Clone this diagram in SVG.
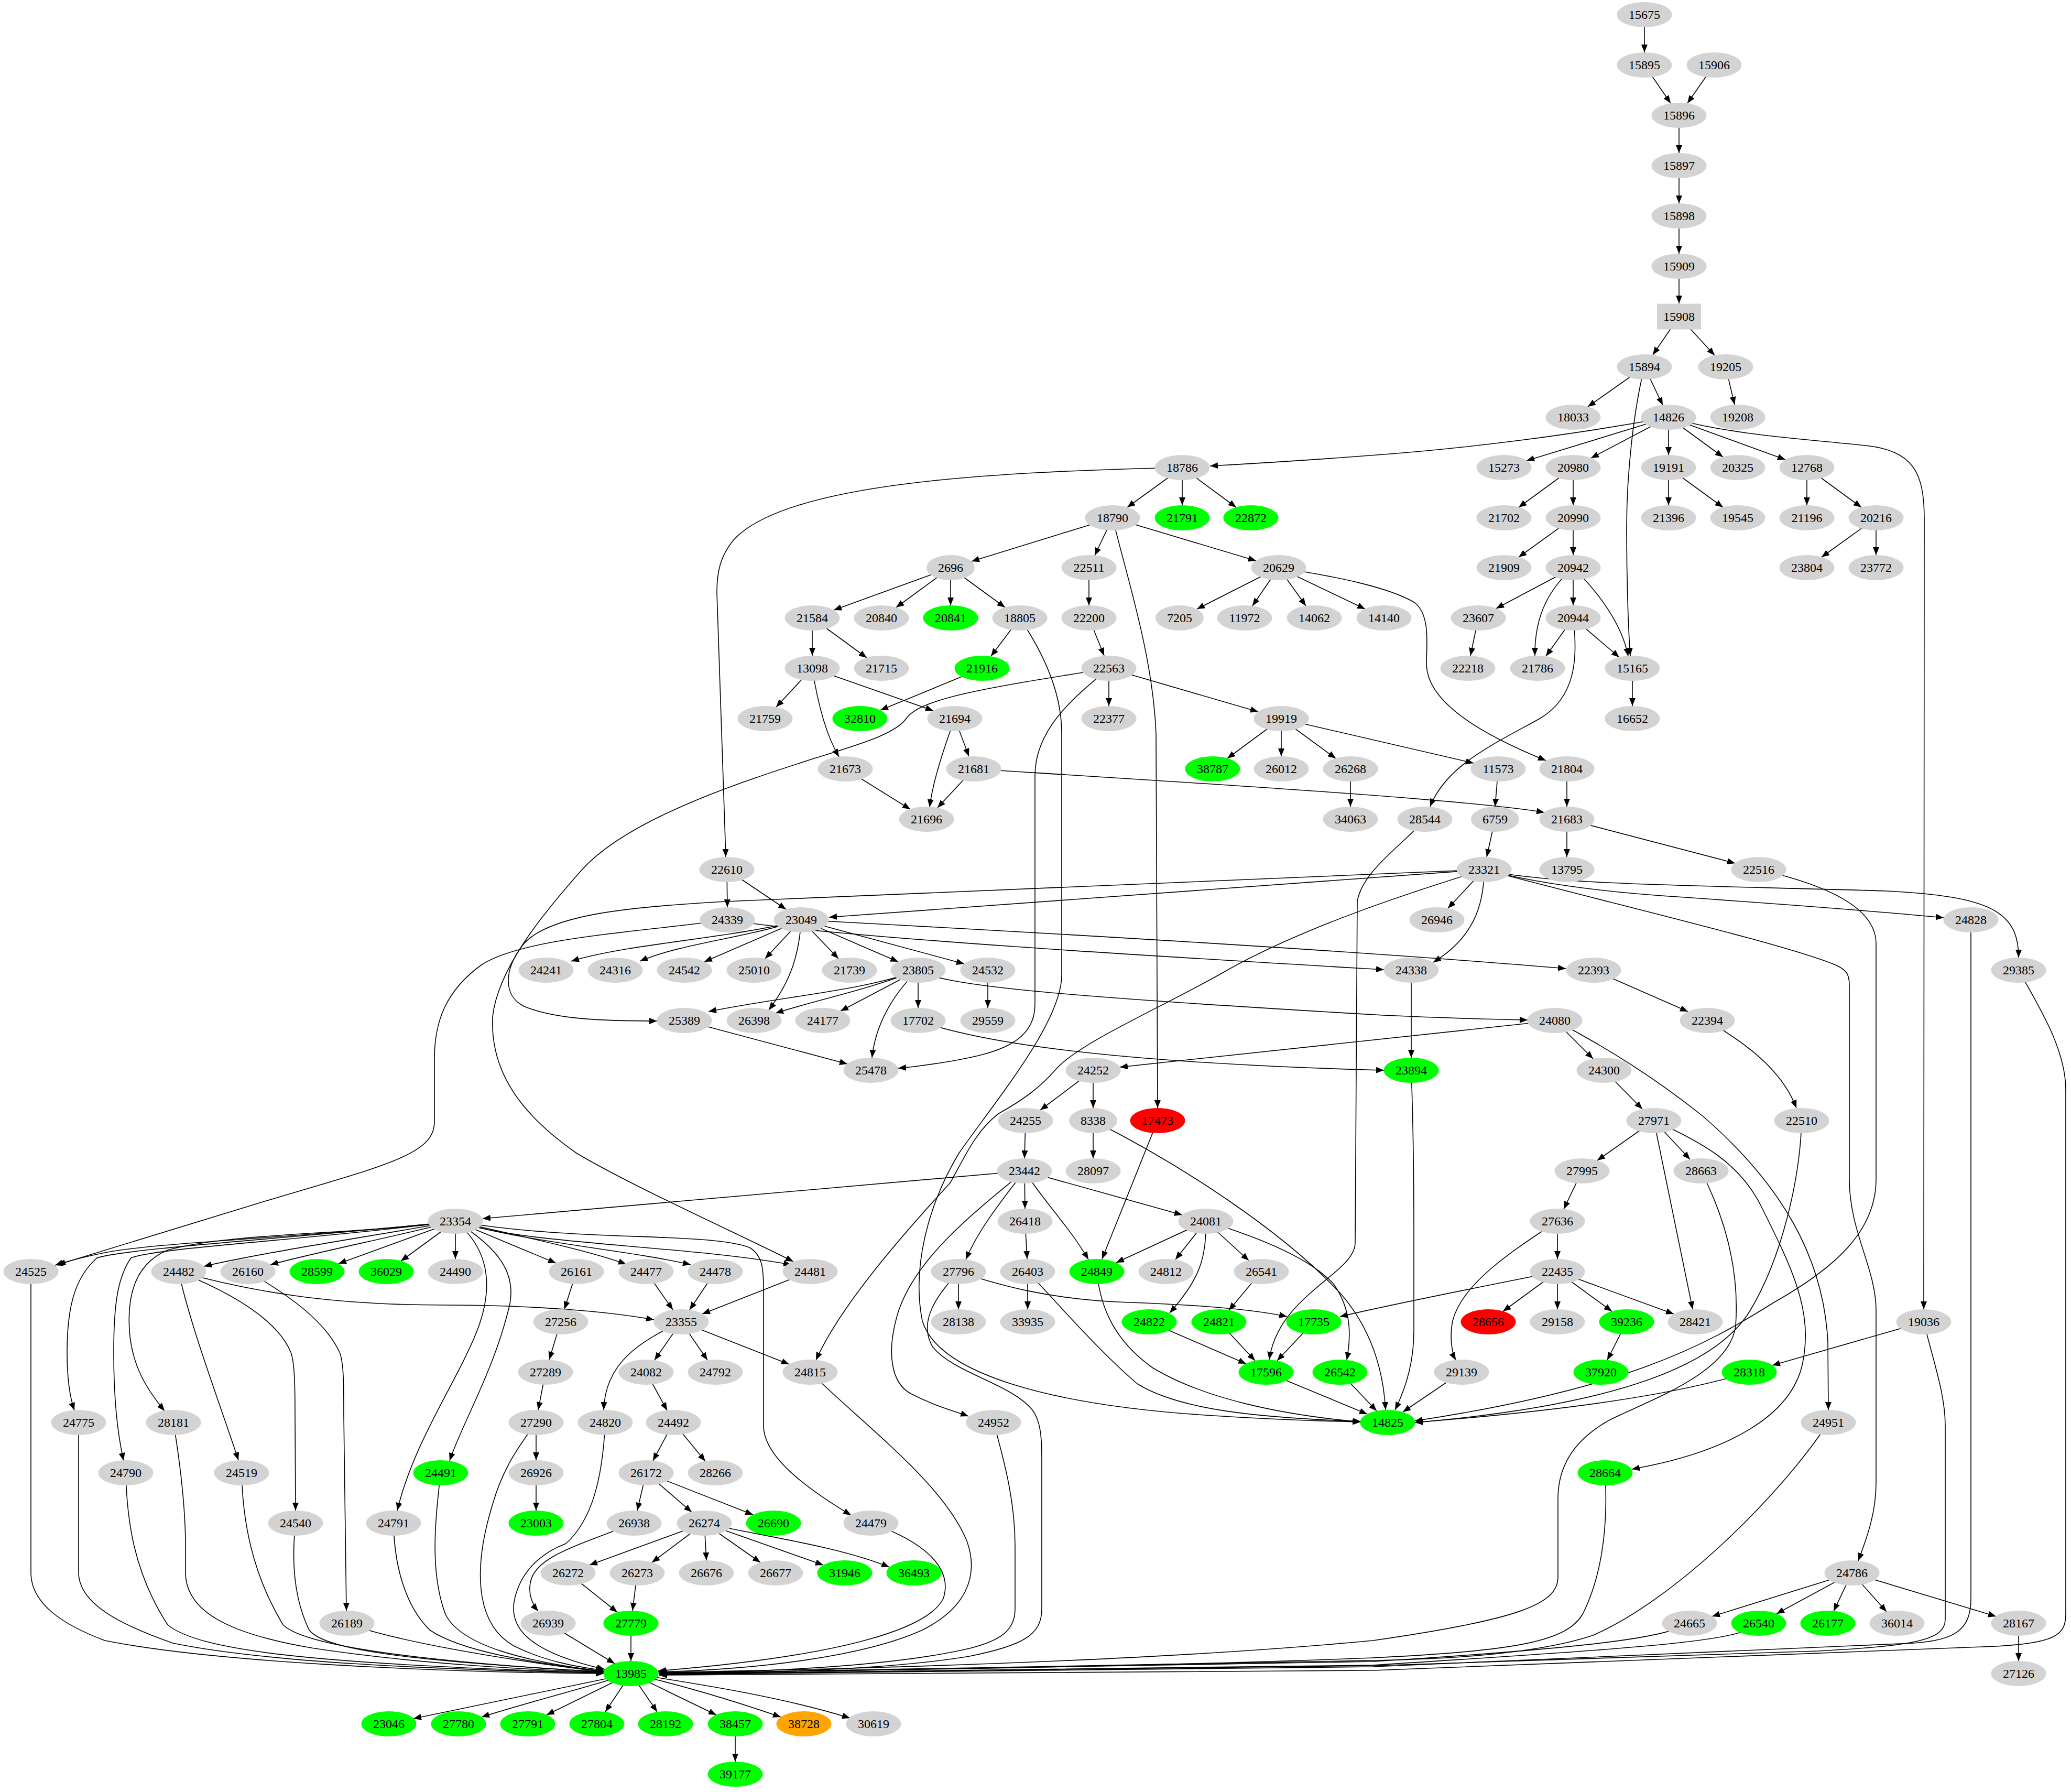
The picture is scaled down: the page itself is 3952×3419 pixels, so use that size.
<svg xmlns="http://www.w3.org/2000/svg" width="3952" height="3419" viewBox="0 0 3952 3419">
<defs>
<style>
.gr ellipse,.gr rect{fill:#d3d3d3}
.gn ellipse{fill:#00ff00}
.rd ellipse{fill:#ff0000}
.or ellipse{fill:#ffa500}
text{font-family:"Liberation Serif","Times New Roman",serif;font-size:24px;text-anchor:middle;fill:#000}
#edges path{fill:none;stroke:#000;stroke-width:1.6;marker-end:url(#a)}
</style>
<marker id="a" viewBox="0 0 15 12" refX="15" refY="6" markerWidth="15" markerHeight="12" markerUnits="userSpaceOnUse" orient="auto"><path d="M0,0L15,6L0,12z" fill="#000"/></marker>
</defs>
<rect width="3952" height="3419" fill="#fff"/>
<g id="edges">
<path d="M3138 28 L3138 100"/>
<path d="M3138 124 L3188 197"/>
<path d="M3271 124 L3220 197"/>
<path d="M3204 220 L3204 292"/>
<path d="M3204 316 L3204 388"/>
<path d="M3204 412 L3204 484"/>
<path d="M3204 508 L3204 579"/>
<path d="M3204 604 L3154 677"/>
<path d="M3204 604 L3272 678"/>
<path d="M3138 700 L3030 776"/>
<path d="M3138 700 L3173 773"/>
<path d="M3138 700 C3118 780 3104 900 3104 1008 C3104 1100 3107 1200 3111 1251"/>
<path d="M3293 700 L3310 772"/>
<path d="M3184 796 C3000 830 2800 855 2640 867 C2500 878 2400 884 2309 889"/>
<path d="M3184 796 L2913 879"/>
<path d="M3184 796 L3036 874"/>
<path d="M3184 796 L3184 868"/>
<path d="M3184 796 L3288 872"/>
<path d="M3184 796 L3407 877"/>
<path d="M3184 796 C3300 830 3450 838 3560 850 C3650 860 3672 900 3672 990 L3671 2498"/>
<path d="M3002 892 L2898 968"/>
<path d="M3002 892 L3002 964"/>
<path d="M3002 988 L2898 1063"/>
<path d="M3002 988 L3002 1059"/>
<path d="M3184 892 L3184 964"/>
<path d="M3184 892 L3288 968"/>
<path d="M3448 892 L3448 964"/>
<path d="M3448 892 L3552 968"/>
<path d="M3580 988 L3476 1063"/>
<path d="M3580 988 L3580 1059"/>
<path d="M3002 1083 L2855 1161"/>
<path d="M3002 1083 C2960 1120 2928 1170 2929 1251"/>
<path d="M3002 1083 L3002 1155"/>
<path d="M3002 1083 C3050 1130 3095 1190 3107 1252"/>
<path d="M3002 1179 L2950 1252"/>
<path d="M3002 1179 L3090 1254"/>
<path d="M3002 1179 C3012 1260 3005 1330 2940 1370 C2850 1420 2760 1460 2729 1539"/>
<path d="M2821 1179 L2806 1251"/>
<path d="M3115 1275 L3115 1347"/>
<path d="M2256 892 L2151 968"/>
<path d="M2256 892 L2256 964"/>
<path d="M2256 892 L2359 968"/>
<path d="M2256 892 C1900 900 1500 920 1400 1030 C1375 1060 1368 1090 1368 1130 L1385 1635"/>
<path d="M2123 988 L1854 1071"/>
<path d="M2123 988 L2089 1060"/>
<path d="M2123 988 L2397 1070"/>
<path d="M2123 988 C2150 1100 2200 1250 2206 1400 L2209 2114"/>
<path d="M1814 1083 L1591 1164"/>
<path d="M1814 1083 L1710 1159"/>
<path d="M1814 1083 L1814 1155"/>
<path d="M1814 1083 L1918 1159"/>
<path d="M2078 1083 L2078 1155"/>
<path d="M2078 1179 L2107 1251"/>
<path d="M2440 1083 L2284 1162"/>
<path d="M2440 1083 L2390 1156"/>
<path d="M2440 1083 L2492 1156"/>
<path d="M2440 1083 L2605 1162"/>
<path d="M2440 1083 C2550 1100 2650 1120 2700 1150 C2730 1175 2722 1230 2722 1266 C2722 1330 2800 1390 2950 1451"/>
<path d="M1550 1179 L1550 1251"/>
<path d="M1550 1179 L1654 1255"/>
<path d="M1946 1179 L1891 1252"/>
<path d="M1946 1179 C2000 1260 2026 1330 2026 1400 L2026 1860 C2026 1950 1900 2100 1830 2200 C1770 2300 1740 2420 1760 2520 C1790 2620 2000 2680 2300 2700 C2450 2710 2550 2712 2596 2713"/>
<path d="M1550 1275 L1481 1349"/>
<path d="M1550 1275 C1560 1340 1575 1400 1601 1444"/>
<path d="M1550 1275 L1781 1356"/>
<path d="M1874 1275 L1680 1355"/>
<path d="M2116 1275 L2116 1347"/>
<path d="M2116 1275 L2401 1358"/>
<path d="M2116 1275 C1900 1310 1760 1330 1730 1370 C1710 1400 1640 1420 1560 1445 C1420 1490 1200 1560 1110 1660 C1030 1750 950 1850 940 1940 C935 2050 1000 2130 1100 2200 C1200 2260 1400 2350 1514 2407"/>
<path d="M2116 1275 C2050 1330 1975 1390 1975 1480 L1975 1917 C1975 1990 1900 2010 1813 2025 C1770 2032 1740 2036 1714 2038"/>
<path d="M1822 1371 C1800 1430 1780 1490 1774 1540"/>
<path d="M1822 1371 L1849 1443"/>
<path d="M1613 1467 L1737 1544"/>
<path d="M1858 1467 L1789 1541"/>
<path d="M1858 1467 C2300 1495 2800 1525 2947 1550"/>
<path d="M2445 1371 L2342 1447"/>
<path d="M2445 1371 L2445 1443"/>
<path d="M2445 1371 L2549 1447"/>
<path d="M2445 1371 L2812 1456"/>
<path d="M2577 1467 L2577 1539"/>
<path d="M2859 1467 L2853 1539"/>
<path d="M2990 1467 L2990 1539"/>
<path d="M2853 1563 L2837 1635"/>
<path d="M2990 1563 L2990 1635"/>
<path d="M2990 1563 L3311 1647"/>
<path d="M2719 1563 C2680 1610 2600 1660 2590 1720 L2586 2371 C2586 2430 2440 2470 2422 2594"/>
<path d="M1387 1659 L1388 1731"/>
<path d="M1387 1659 L1500 1735"/>
<path d="M2832 1659 L1582 1750"/>
<path d="M2832 1659 L1385 1720 C1200 1730 1050 1745 1000 1800 C960 1850 960 1900 1000 1920 C1060 1945 1150 1948 1254 1948"/>
<path d="M2832 1659 L2763 1733"/>
<path d="M2832 1659 C2832 1730 2810 1790 2735 1836"/>
<path d="M2832 1659 C2700 1700 2480 1770 2326 1860 C2200 1930 2060 1990 2015 2040 C1985 2075 1950 2100 1905 2125 C1860 2160 1840 2210 1813 2257 C1700 2380 1600 2500 1557 2595"/>
<path d="M2832 1659 C2950 1690 3100 1705 3215 1712 C3400 1725 3600 1740 3709 1751"/>
<path d="M2832 1659 C2950 1690 3300 1690 3600 1700 C3800 1710 3852 1740 3852 1827"/>
<path d="M2832 1659 C3100 1730 3400 1800 3500 1840 C3525 1850 3529 1860 3529 1880 L3529 2250 C3529 2350 3580 2420 3580 2500 L3580 2830 C3580 2890 3560 2940 3546 2978"/>
<path d="M3356 1659 C3450 1680 3580 1720 3580 1800 L3580 2250 C3580 2350 3500 2420 3385 2485 C3250 2570 3100 2650 2700 2711"/>
<path d="M3438 2138 C3435 2250 3400 2400 3340 2500 C3280 2600 3100 2680 2700 2714"/>
<path d="M3246 2234 C3290 2320 3320 2420 3312 2530 C3300 2620 3150 2670 3070 2710 C3000 2750 2973 2800 2973 2860 L2973 3009 C2973 3060 2900 3090 2620 3130 C2200 3170 1600 3185 1258 3191"/>
<path d="M3063 2810 C3068 2900 3060 3000 3020 3080 C2990 3130 2900 3150 2620 3163 C2200 3180 1600 3188 1258 3192"/>
<path d="M3489 2714 C3400 2850 3200 3050 3040 3120 C2950 3150 2800 3165 2620 3168 L1258 3193"/>
<path d="M3224 3097 C3180 3120 3100 3140 2620 3170 L1258 3193"/>
<path d="M3356 3097 C3320 3130 3200 3140 2620 3177 L1258 3194"/>
<path d="M3671 2522 C3690 2600 3712 2660 3712 2720 L3712 3090 C3712 3130 3650 3140 3470 3150 L2620 3178 L1258 3194"/>
<path d="M3761 1755 L3761 3050 C3761 3110 3730 3130 3650 3135 L2620 3180 L1258 3195"/>
<path d="M3852 1851 C3890 1920 3942 2000 3942 2080 L3942 3080 C3942 3120 3920 3135 3809 3141 L2620 3187 L1258 3196"/>
<path d="M1662 2906 C1760 2940 1820 2990 1800 3050 C1770 3110 1600 3160 1256 3188"/>
<path d="M1546 2618 C1650 2720 1800 2830 1845 2940 C1870 3010 1840 3070 1760 3110 C1650 3160 1450 3185 1256 3190"/>
<path d="M1896 2714 C1920 2800 1937 2870 1937 2950 L1937 3070 C1937 3110 1910 3130 1850 3145 C1700 3180 1450 3190 1257 3192"/>
<path d="M1829 2426 C1790 2470 1750 2520 1780 2570 C1820 2620 1930 2640 1970 2690 C1985 2710 1988 2740 1988 2780 L1988 3070 C1988 3120 1950 3140 1850 3160 C1700 3185 1450 3193 1257 3193"/>
<path d="M59 2426 L59 3000 C59 3060 120 3100 200 3130 C400 3170 800 3190 1152 3193"/>
<path d="M150 2714 L150 3000 C150 3060 230 3100 330 3135 C500 3170 800 3185 1152 3192"/>
<path d="M240 2810 C242 2900 255 3000 320 3100 C380 3150 600 3175 1152 3192"/>
<path d="M331 2714 C345 2800 354 2880 354 2950 L354 3000 C354 3080 450 3120 600 3145 C800 3175 1000 3185 1152 3191"/>
<path d="M461 2810 C463 2900 480 3000 540 3100 C580 3140 800 3170 1152 3190"/>
<path d="M564 2906 C558 2960 556 3040 590 3110 C620 3150 800 3170 1152 3190"/>
<path d="M662 3097 C750 3130 950 3165 1152 3190"/>
<path d="M751 2906 C752 2980 770 3060 820 3110 C880 3150 1000 3170 1152 3189"/>
<path d="M841 2810 C830 2900 820 3000 850 3080 C880 3140 1000 3170 1152 3189"/>
<path d="M1023 2714 C990 2760 960 2800 940 2870 C900 3000 910 3100 980 3140 C1040 3170 1100 3180 1152 3187"/>
<path d="M1155 2714 C1150 2820 1130 2900 1080 2945 C1040 2960 1000 2990 985 3040 C965 3100 1000 3150 1154 3185"/>
<path d="M1046 3097 L1173 3174"/>
<path d="M1204 3097 L1204 3169"/>
<path d="M1204 3193 C1050 3225 900 3255 789 3279"/>
<path d="M1204 3193 C1100 3225 1000 3250 919 3276"/>
<path d="M1204 3193 L1043 3272"/>
<path d="M1204 3193 L1155 3266"/>
<path d="M1204 3193 L1254 3266"/>
<path d="M1204 3193 L1367 3272"/>
<path d="M1204 3193 C1300 3215 1400 3245 1490 3276"/>
<path d="M1204 3193 C1350 3215 1500 3240 1622 3278"/>
<path d="M1403 3289 L1403 3361"/>
<path d="M1084 3001 L1178 3076"/>
<path d="M1216 3001 L1207 3073"/>
<path d="M1344 2906 L1125 2986"/>
<path d="M1344 2906 L1244 2981"/>
<path d="M1344 2906 L1348 2977"/>
<path d="M1344 2906 L1451 2981"/>
<path d="M1344 2906 L1571 2986"/>
<path d="M1344 2906 C1450 2930 1600 2950 1697 2990"/>
<path d="M1210 2906 C1100 2950 1020 2970 1012 3020 C1008 3040 1015 3060 1027 3074"/>
<path d="M1233 2810 L1216 2882"/>
<path d="M1233 2810 L1320 2885"/>
<path d="M1233 2810 L1437 2890"/>
<path d="M1285 2714 L1246 2787"/>
<path d="M1285 2714 L1346 2788"/>
<path d="M1233 2618 L1273 2691"/>
<path d="M1041 2618 L1027 2690"/>
<path d="M1023 2714 L1023 2786"/>
<path d="M1023 2810 L1023 2882"/>
<path d="M1070 2522 L1048 2594"/>
<path d="M1100 2426 L1077 2498"/>
<path d="M1300 2522 L1249 2595"/>
<path d="M1300 2522 L1350 2595"/>
<path d="M1300 2522 L1506 2603"/>
<path d="M1300 2522 C1220 2560 1155 2600 1152 2690"/>
<path d="M341 2426 C500 2470 650 2490 850 2490 C1000 2490 1150 2500 1248 2518"/>
<path d="M1233 2426 L1284 2499"/>
<path d="M1365 2426 L1316 2499"/>
<path d="M1546 2426 L1340 2507"/>
<path d="M341 2426 C360 2520 420 2680 455 2786"/>
<path d="M341 2426 C450 2470 530 2520 555 2580 C562 2600 563 2640 563 2700 L564 2882"/>
<path d="M473 2426 C550 2470 620 2520 648 2580 C656 2600 656 2640 656 2700 L661 3073"/>
<path d="M869 2330 C600 2360 300 2370 200 2390 C160 2398 130 2406 105 2414"/>
<path d="M1388 1755 C1200 1780 1000 1790 920 1840 C850 1890 829 1950 829 2020 L829 2140 C829 2200 750 2220 505 2292 C350 2340 200 2385 110 2413"/>
<path d="M869 2330 C700 2360 500 2390 389 2416"/>
<path d="M869 2330 C750 2360 600 2390 516 2413"/>
<path d="M869 2330 L646 2411"/>
<path d="M869 2330 L765 2406"/>
<path d="M869 2330 L869 2402"/>
<path d="M869 2330 L1061 2410"/>
<path d="M869 2330 C1000 2360 1120 2385 1195 2412"/>
<path d="M869 2330 C1000 2370 1200 2385 1318 2413"/>
<path d="M869 2330 C1000 2375 1300 2375 1510 2413"/>
<path d="M869 2330 C1100 2370 1350 2350 1430 2380 C1455 2395 1457 2420 1457 2460 L1457 2720 C1457 2780 1540 2840 1624 2891"/>
<path d="M869 2330 C930 2380 945 2450 910 2540 C870 2640 790 2750 758 2882"/>
<path d="M869 2330 C950 2380 990 2430 970 2500 C940 2620 880 2720 858 2787"/>
<path d="M869 2330 C600 2360 250 2380 185 2400 C140 2440 128 2500 128 2580 C128 2630 133 2665 142 2691"/>
<path d="M869 2330 C600 2365 300 2380 250 2400 C222 2440 217 2500 217 2580 C217 2680 225 2740 236 2787"/>
<path d="M869 2330 C700 2355 450 2350 320 2385 C260 2410 240 2470 248 2550 C255 2610 280 2650 314 2692"/>
<path d="M1529 1755 C1400 1790 1200 1800 1090 1834"/>
<path d="M1529 1755 C1420 1790 1300 1800 1221 1834"/>
<path d="M1529 1755 L1344 1835"/>
<path d="M1529 1755 L1460 1829"/>
<path d="M1529 1755 L1600 1829"/>
<path d="M1529 1755 L1714 1835"/>
<path d="M1529 1755 L1840 1839"/>
<path d="M1529 1755 C1525 1820 1510 1870 1467 1927"/>
<path d="M1529 1755 C2000 1780 2600 1815 2988 1848"/>
<path d="M1388 1755 C1600 1790 2300 1830 2641 1850"/>
<path d="M1752 1851 C1650 1890 1500 1900 1352 1930"/>
<path d="M1752 1851 C1650 1890 1550 1910 1480 1933"/>
<path d="M1752 1851 L1604 1929"/>
<path d="M1752 1851 L1752 1923"/>
<path d="M1752 1851 C1700 1900 1670 1960 1664 2018"/>
<path d="M1752 1851 C1800 1880 2000 1900 2640 1937 C2750 1942 2850 1945 2915 1946"/>
<path d="M1885 1851 L1885 1923"/>
<path d="M1306 1947 L1617 2030"/>
<path d="M1752 1947 C1900 2000 2200 2030 2641 2042"/>
<path d="M2967 1947 L2137 2036"/>
<path d="M2967 1947 L3040 2020"/>
<path d="M2967 1947 C3050 1990 3150 2050 3250 2130 C3400 2260 3480 2400 3488 2560 L3489 2690"/>
<path d="M3041 1851 L3221 1930"/>
<path d="M3258 1947 C3330 1990 3400 2040 3428 2114"/>
<path d="M2693 1851 L2693 2018"/>
<path d="M2693 2042 C2697 2150 2698 2250 2698 2350 L2698 2540 C2698 2600 2682 2650 2662 2690"/>
<path d="M2086 2138 C2250 2220 2450 2350 2560 2470 C2620 2540 2640 2620 2644 2690"/>
<path d="M2086 2138 L2086 2210"/>
<path d="M2086 2042 L1985 2118"/>
<path d="M2086 2042 L2086 2114"/>
<path d="M1957 2138 L1955 2210"/>
<path d="M3061 2042 L3134 2116"/>
<path d="M3156 2138 L3048 2214"/>
<path d="M3156 2138 L3225 2212"/>
<path d="M3156 2138 L3230 2498"/>
<path d="M3156 2138 C3250 2180 3320 2220 3360 2300 C3420 2420 3460 2500 3440 2600 C3420 2700 3300 2770 3114 2803"/>
<path d="M3019 2234 L2984 2307"/>
<path d="M2972 2330 L2972 2402"/>
<path d="M2972 2330 C2880 2390 2790 2450 2772 2520 C2766 2550 2770 2580 2778 2595"/>
<path d="M2972 2426 L2868 2502"/>
<path d="M2972 2426 L2972 2498"/>
<path d="M2972 2426 L3076 2502"/>
<path d="M2972 2426 L3194 2507"/>
<path d="M2972 2426 C2800 2460 2650 2490 2557 2512"/>
<path d="M3104 2522 L3067 2595"/>
<path d="M2789 2618 L2677 2694"/>
<path d="M3338 2618 C3200 2660 3000 2690 2700 2714"/>
<path d="M3671 2522 L3382 2605"/>
<path d="M1955 2234 L921 2325"/>
<path d="M1955 2234 L1956 2306"/>
<path d="M1955 2234 C1990 2290 2040 2340 2077 2403"/>
<path d="M1955 2234 L2256 2318"/>
<path d="M1955 2234 C1920 2280 1870 2340 1843 2403"/>
<path d="M1955 2234 C1850 2320 1750 2400 1715 2500 C1690 2580 1700 2640 1740 2660 C1790 2685 1820 2692 1848 2702"/>
<path d="M1956 2330 L1960 2402"/>
<path d="M1961 2426 L1961 2498"/>
<path d="M1961 2426 C2030 2500 2100 2580 2170 2640 C2250 2690 2400 2705 2597 2712"/>
<path d="M2093 2426 C2100 2500 2130 2560 2200 2610 C2300 2670 2450 2700 2597 2713"/>
<path d="M2209 2138 L2103 2402"/>
<path d="M2301 2330 L2130 2409"/>
<path d="M2301 2330 L2243 2403"/>
<path d="M2301 2330 L2383 2405"/>
<path d="M2301 2330 C2302 2400 2290 2440 2232 2505"/>
<path d="M2301 2330 C2400 2360 2500 2400 2545 2450 C2580 2500 2578 2550 2570 2595"/>
<path d="M2407 2426 L2345 2500"/>
<path d="M1829 2426 L1829 2498"/>
<path d="M1829 2426 C1900 2450 2000 2480 2155 2485 C2300 2490 2400 2500 2456 2512"/>
<path d="M2193 2522 L2378 2602"/>
<path d="M2326 2522 L2395 2596"/>
<path d="M2507 2522 L2437 2596"/>
<path d="M2416 2618 L2609 2698"/>
<path d="M2557 2618 L2627 2692"/>
<path d="M3534 3001 L3267 3084"/>
<path d="M3534 3001 L3390 3079"/>
<path d="M3534 3001 L3499 3074"/>
<path d="M3534 3001 L3600 3075"/>
<path d="M3534 3001 L3809 3084"/>
<path d="M3852 3097 L3852 3169"/>
</g>
<g id="nodes">
<g id="n15675" class="gr"><ellipse cx="3138" cy="28" rx="52.5" ry="24"/><text x="3138" y="36">15675</text></g>
<g id="n15895" class="gr"><ellipse cx="3138" cy="124" rx="52.5" ry="24"/><text x="3138" y="132">15895</text></g>
<g id="n15906" class="gr"><ellipse cx="3271" cy="124" rx="52.5" ry="24"/><text x="3271" y="132">15906</text></g>
<g id="n15896" class="gr"><ellipse cx="3204" cy="220" rx="52.5" ry="24"/><text x="3204" y="228">15896</text></g>
<g id="n15897" class="gr"><ellipse cx="3204" cy="316" rx="52.5" ry="24"/><text x="3204" y="324">15897</text></g>
<g id="n15898" class="gr"><ellipse cx="3204" cy="412" rx="52.5" ry="24"/><text x="3204" y="420">15898</text></g>
<g id="n15909" class="gr"><ellipse cx="3204" cy="508" rx="52.5" ry="24"/><text x="3204" y="516">15909</text></g>
<g id="n15908" class="gr"><rect x="3162" y="579.5" width="84" height="49"/><text x="3204" y="612">15908</text></g>
<g id="n15894" class="gr"><ellipse cx="3138" cy="700" rx="52.5" ry="24"/><text x="3138" y="708">15894</text></g>
<g id="n19205" class="gr"><ellipse cx="3293" cy="700" rx="52.5" ry="24"/><text x="3293" y="708">19205</text></g>
<g id="n18033" class="gr"><ellipse cx="3002" cy="796" rx="52.5" ry="24"/><text x="3002" y="804">18033</text></g>
<g id="n14826" class="gr"><ellipse cx="3184" cy="796" rx="52.5" ry="24"/><text x="3184" y="804">14826</text></g>
<g id="n19208" class="gr"><ellipse cx="3316" cy="796" rx="52.5" ry="24"/><text x="3316" y="804">19208</text></g>
<g id="n18786" class="gr"><ellipse cx="2256" cy="892" rx="52.5" ry="24"/><text x="2256" y="900">18786</text></g>
<g id="n15273" class="gr"><ellipse cx="2870" cy="892" rx="52.5" ry="24"/><text x="2870" y="900">15273</text></g>
<g id="n20980" class="gr"><ellipse cx="3002" cy="892" rx="52.5" ry="24"/><text x="3002" y="900">20980</text></g>
<g id="n19191" class="gr"><ellipse cx="3184" cy="892" rx="52.5" ry="24"/><text x="3184" y="900">19191</text></g>
<g id="n20325" class="gr"><ellipse cx="3316" cy="892" rx="52.5" ry="24"/><text x="3316" y="900">20325</text></g>
<g id="n12768" class="gr"><ellipse cx="3448" cy="892" rx="52.5" ry="24"/><text x="3448" y="900">12768</text></g>
<g id="n18790" class="gr"><ellipse cx="2123" cy="988" rx="52.5" ry="24"/><text x="2123" y="996">18790</text></g>
<g id="n21791" class="gn"><ellipse cx="2256" cy="988" rx="52.5" ry="24"/><text x="2256" y="996">21791</text></g>
<g id="n22872" class="gn"><ellipse cx="2387" cy="988" rx="52.5" ry="24"/><text x="2387" y="996">22872</text></g>
<g id="n21702" class="gr"><ellipse cx="2870" cy="988" rx="52.5" ry="24"/><text x="2870" y="996">21702</text></g>
<g id="n20990" class="gr"><ellipse cx="3002" cy="988" rx="52.5" ry="24"/><text x="3002" y="996">20990</text></g>
<g id="n21396" class="gr"><ellipse cx="3184" cy="988" rx="52.5" ry="24"/><text x="3184" y="996">21396</text></g>
<g id="n19545" class="gr"><ellipse cx="3316" cy="988" rx="52.5" ry="24"/><text x="3316" y="996">19545</text></g>
<g id="n21196" class="gr"><ellipse cx="3448" cy="988" rx="52.5" ry="24"/><text x="3448" y="996">21196</text></g>
<g id="n20216" class="gr"><ellipse cx="3580" cy="988" rx="52.5" ry="24"/><text x="3580" y="996">20216</text></g>
<g id="n2696" class="gr"><ellipse cx="1814" cy="1083" rx="46" ry="24"/><text x="1814" y="1091">2696</text></g>
<g id="n22511" class="gr"><ellipse cx="2078" cy="1083" rx="52.5" ry="24"/><text x="2078" y="1091">22511</text></g>
<g id="n20629" class="gr"><ellipse cx="2440" cy="1083" rx="52.5" ry="24"/><text x="2440" y="1091">20629</text></g>
<g id="n21909" class="gr"><ellipse cx="2870" cy="1083" rx="52.5" ry="24"/><text x="2870" y="1091">21909</text></g>
<g id="n20942" class="gr"><ellipse cx="3002" cy="1083" rx="52.5" ry="24"/><text x="3002" y="1091">20942</text></g>
<g id="n23804" class="gr"><ellipse cx="3448" cy="1083" rx="52.5" ry="24"/><text x="3448" y="1091">23804</text></g>
<g id="n23772" class="gr"><ellipse cx="3580" cy="1083" rx="52.5" ry="24"/><text x="3580" y="1091">23772</text></g>
<g id="n21584" class="gr"><ellipse cx="1550" cy="1179" rx="52.5" ry="24"/><text x="1550" y="1187">21584</text></g>
<g id="n20840" class="gr"><ellipse cx="1682" cy="1179" rx="52.5" ry="24"/><text x="1682" y="1187">20840</text></g>
<g id="n20841" class="gn"><ellipse cx="1814" cy="1179" rx="52.5" ry="24"/><text x="1814" y="1187">20841</text></g>
<g id="n18805" class="gr"><ellipse cx="1946" cy="1179" rx="52.5" ry="24"/><text x="1946" y="1187">18805</text></g>
<g id="n22200" class="gr"><ellipse cx="2078" cy="1179" rx="52.5" ry="24"/><text x="2078" y="1187">22200</text></g>
<g id="n7205" class="gr"><ellipse cx="2251" cy="1179" rx="46" ry="24"/><text x="2251" y="1187">7205</text></g>
<g id="n11972" class="gr"><ellipse cx="2375" cy="1179" rx="52.5" ry="24"/><text x="2375" y="1187">11972</text></g>
<g id="n14062" class="gr"><ellipse cx="2508" cy="1179" rx="52.5" ry="24"/><text x="2508" y="1187">14062</text></g>
<g id="n14140" class="gr"><ellipse cx="2641" cy="1179" rx="52.5" ry="24"/><text x="2641" y="1187">14140</text></g>
<g id="n23607" class="gr"><ellipse cx="2821" cy="1179" rx="52.5" ry="24"/><text x="2821" y="1187">23607</text></g>
<g id="n20944" class="gr"><ellipse cx="3002" cy="1179" rx="52.5" ry="24"/><text x="3002" y="1187">20944</text></g>
<g id="n13098" class="gr"><ellipse cx="1550" cy="1275" rx="52.5" ry="24"/><text x="1550" y="1283">13098</text></g>
<g id="n21715" class="gr"><ellipse cx="1682" cy="1275" rx="52.5" ry="24"/><text x="1682" y="1283">21715</text></g>
<g id="n21916" class="gn"><ellipse cx="1874" cy="1275" rx="52.5" ry="24"/><text x="1874" y="1283">21916</text></g>
<g id="n22563" class="gr"><ellipse cx="2116" cy="1275" rx="52.5" ry="24"/><text x="2116" y="1283">22563</text></g>
<g id="n22218" class="gr"><ellipse cx="2801" cy="1275" rx="52.5" ry="24"/><text x="2801" y="1283">22218</text></g>
<g id="n21786" class="gr"><ellipse cx="2934" cy="1275" rx="52.5" ry="24"/><text x="2934" y="1283">21786</text></g>
<g id="n15165" class="gr"><ellipse cx="3115" cy="1275" rx="52.5" ry="24"/><text x="3115" y="1283">15165</text></g>
<g id="n21759" class="gr"><ellipse cx="1460" cy="1371" rx="52.5" ry="24"/><text x="1460" y="1379">21759</text></g>
<g id="n32810" class="gn"><ellipse cx="1641" cy="1371" rx="52.5" ry="24"/><text x="1641" y="1379">32810</text></g>
<g id="n21694" class="gr"><ellipse cx="1822" cy="1371" rx="52.5" ry="24"/><text x="1822" y="1379">21694</text></g>
<g id="n22377" class="gr"><ellipse cx="2116" cy="1371" rx="52.5" ry="24"/><text x="2116" y="1379">22377</text></g>
<g id="n19919" class="gr"><ellipse cx="2445" cy="1371" rx="52.5" ry="24"/><text x="2445" y="1379">19919</text></g>
<g id="n16652" class="gr"><ellipse cx="3115" cy="1371" rx="52.5" ry="24"/><text x="3115" y="1379">16652</text></g>
<g id="n21673" class="gr"><ellipse cx="1613" cy="1467" rx="52.5" ry="24"/><text x="1613" y="1475">21673</text></g>
<g id="n21681" class="gr"><ellipse cx="1858" cy="1467" rx="52.5" ry="24"/><text x="1858" y="1475">21681</text></g>
<g id="n38787" class="gn"><ellipse cx="2314" cy="1467" rx="52.5" ry="24"/><text x="2314" y="1475">38787</text></g>
<g id="n26012" class="gr"><ellipse cx="2445" cy="1467" rx="52.5" ry="24"/><text x="2445" y="1475">26012</text></g>
<g id="n26268" class="gr"><ellipse cx="2577" cy="1467" rx="52.5" ry="24"/><text x="2577" y="1475">26268</text></g>
<g id="n11573" class="gr"><ellipse cx="2859" cy="1467" rx="52.5" ry="24"/><text x="2859" y="1475">11573</text></g>
<g id="n21804" class="gr"><ellipse cx="2990" cy="1467" rx="52.5" ry="24"/><text x="2990" y="1475">21804</text></g>
<g id="n21696" class="gr"><ellipse cx="1768" cy="1563" rx="52.5" ry="24"/><text x="1768" y="1571">21696</text></g>
<g id="n34063" class="gr"><ellipse cx="2577" cy="1563" rx="52.5" ry="24"/><text x="2577" y="1571">34063</text></g>
<g id="n28544" class="gr"><ellipse cx="2719" cy="1563" rx="52.5" ry="24"/><text x="2719" y="1571">28544</text></g>
<g id="n6759" class="gr"><ellipse cx="2853" cy="1563" rx="46" ry="24"/><text x="2853" y="1571">6759</text></g>
<g id="n21683" class="gr"><ellipse cx="2990" cy="1563" rx="52.5" ry="24"/><text x="2990" y="1571">21683</text></g>
<g id="n22610" class="gr"><ellipse cx="1387" cy="1659" rx="52.5" ry="24"/><text x="1387" y="1667">22610</text></g>
<g id="n23321" class="gr"><ellipse cx="2832" cy="1659" rx="52.5" ry="24"/><text x="2832" y="1667">23321</text></g>
<g id="n13795" class="gr"><ellipse cx="2990" cy="1659" rx="52.5" ry="24"/><text x="2990" y="1667">13795</text></g>
<g id="n22516" class="gr"><ellipse cx="3356" cy="1659" rx="52.5" ry="24"/><text x="3356" y="1667">22516</text></g>
<g id="n24339" class="gr"><ellipse cx="1388" cy="1755" rx="52.5" ry="24"/><text x="1388" y="1763">24339</text></g>
<g id="n23049" class="gr"><ellipse cx="1529" cy="1755" rx="52.5" ry="24"/><text x="1529" y="1763">23049</text></g>
<g id="n26946" class="gr"><ellipse cx="2742" cy="1755" rx="52.5" ry="24"/><text x="2742" y="1763">26946</text></g>
<g id="n24828" class="gr"><ellipse cx="3761" cy="1755" rx="52.5" ry="24"/><text x="3761" y="1763">24828</text></g>
<g id="n24241" class="gr"><ellipse cx="1042" cy="1851" rx="52.5" ry="24"/><text x="1042" y="1859">24241</text></g>
<g id="n24316" class="gr"><ellipse cx="1174" cy="1851" rx="52.5" ry="24"/><text x="1174" y="1859">24316</text></g>
<g id="n24542" class="gr"><ellipse cx="1306" cy="1851" rx="52.5" ry="24"/><text x="1306" y="1859">24542</text></g>
<g id="n25010" class="gr"><ellipse cx="1439" cy="1851" rx="52.5" ry="24"/><text x="1439" y="1859">25010</text></g>
<g id="n21739" class="gr"><ellipse cx="1621" cy="1851" rx="52.5" ry="24"/><text x="1621" y="1859">21739</text></g>
<g id="n23805" class="gr"><ellipse cx="1752" cy="1851" rx="52.5" ry="24"/><text x="1752" y="1859">23805</text></g>
<g id="n24532" class="gr"><ellipse cx="1885" cy="1851" rx="52.5" ry="24"/><text x="1885" y="1859">24532</text></g>
<g id="n24338" class="gr"><ellipse cx="2693" cy="1851" rx="52.5" ry="24"/><text x="2693" y="1859">24338</text></g>
<g id="n22393" class="gr"><ellipse cx="3041" cy="1851" rx="52.5" ry="24"/><text x="3041" y="1859">22393</text></g>
<g id="n29385" class="gr"><ellipse cx="3852" cy="1851" rx="52.5" ry="24"/><text x="3852" y="1859">29385</text></g>
<g id="n25389" class="gr"><ellipse cx="1306" cy="1947" rx="52.5" ry="24"/><text x="1306" y="1955">25389</text></g>
<g id="n26398" class="gr"><ellipse cx="1439" cy="1947" rx="52.5" ry="24"/><text x="1439" y="1955">26398</text></g>
<g id="n24177" class="gr"><ellipse cx="1570" cy="1947" rx="52.5" ry="24"/><text x="1570" y="1955">24177</text></g>
<g id="n17702" class="gr"><ellipse cx="1752" cy="1947" rx="52.5" ry="24"/><text x="1752" y="1955">17702</text></g>
<g id="n29559" class="gr"><ellipse cx="1885" cy="1947" rx="52.5" ry="24"/><text x="1885" y="1955">29559</text></g>
<g id="n24080" class="gr"><ellipse cx="2967" cy="1947" rx="52.5" ry="24"/><text x="2967" y="1955">24080</text></g>
<g id="n22394" class="gr"><ellipse cx="3258" cy="1947" rx="52.5" ry="24"/><text x="3258" y="1955">22394</text></g>
<g id="n25478" class="gr"><ellipse cx="1662" cy="2042" rx="52.5" ry="24"/><text x="1662" y="2050">25478</text></g>
<g id="n24252" class="gr"><ellipse cx="2086" cy="2042" rx="52.5" ry="24"/><text x="2086" y="2050">24252</text></g>
<g id="n23894" class="gn"><ellipse cx="2693" cy="2042" rx="52.5" ry="24"/><text x="2693" y="2050">23894</text></g>
<g id="n24300" class="gr"><ellipse cx="3061" cy="2042" rx="52.5" ry="24"/><text x="3061" y="2050">24300</text></g>
<g id="n24255" class="gr"><ellipse cx="1957" cy="2138" rx="52.5" ry="24"/><text x="1957" y="2146">24255</text></g>
<g id="n8338" class="gr"><ellipse cx="2086" cy="2138" rx="46" ry="24"/><text x="2086" y="2146">8338</text></g>
<g id="n17473" class="rd"><ellipse cx="2209" cy="2138" rx="52.5" ry="24"/><text x="2209" y="2146">17473</text></g>
<g id="n27971" class="gr"><ellipse cx="3156" cy="2138" rx="52.5" ry="24"/><text x="3156" y="2146">27971</text></g>
<g id="n22510" class="gr"><ellipse cx="3438" cy="2138" rx="52.5" ry="24"/><text x="3438" y="2146">22510</text></g>
<g id="n23442" class="gr"><ellipse cx="1955" cy="2234" rx="52.5" ry="24"/><text x="1955" y="2242">23442</text></g>
<g id="n28097" class="gr"><ellipse cx="2086" cy="2234" rx="52.5" ry="24"/><text x="2086" y="2242">28097</text></g>
<g id="n27995" class="gr"><ellipse cx="3019" cy="2234" rx="52.5" ry="24"/><text x="3019" y="2242">27995</text></g>
<g id="n28663" class="gr"><ellipse cx="3246" cy="2234" rx="52.5" ry="24"/><text x="3246" y="2242">28663</text></g>
<g id="n23354" class="gr"><ellipse cx="869" cy="2330" rx="52.5" ry="24"/><text x="869" y="2338">23354</text></g>
<g id="n26418" class="gr"><ellipse cx="1956" cy="2330" rx="52.5" ry="24"/><text x="1956" y="2338">26418</text></g>
<g id="n24081" class="gr"><ellipse cx="2301" cy="2330" rx="52.5" ry="24"/><text x="2301" y="2338">24081</text></g>
<g id="n27636" class="gr"><ellipse cx="2972" cy="2330" rx="52.5" ry="24"/><text x="2972" y="2338">27636</text></g>
<g id="n24525" class="gr"><ellipse cx="59" cy="2426" rx="52.5" ry="24"/><text x="59" y="2434">24525</text></g>
<g id="n24482" class="gr"><ellipse cx="341" cy="2426" rx="52.5" ry="24"/><text x="341" y="2434">24482</text></g>
<g id="n26160" class="gr"><ellipse cx="473" cy="2426" rx="52.5" ry="24"/><text x="473" y="2434">26160</text></g>
<g id="n28599" class="gn"><ellipse cx="605" cy="2426" rx="52.5" ry="24"/><text x="605" y="2434">28599</text></g>
<g id="n36029" class="gn"><ellipse cx="737" cy="2426" rx="52.5" ry="24"/><text x="737" y="2434">36029</text></g>
<g id="n24490" class="gr"><ellipse cx="869" cy="2426" rx="52.5" ry="24"/><text x="869" y="2434">24490</text></g>
<g id="n26161" class="gr"><ellipse cx="1100" cy="2426" rx="52.5" ry="24"/><text x="1100" y="2434">26161</text></g>
<g id="n24477" class="gr"><ellipse cx="1233" cy="2426" rx="52.5" ry="24"/><text x="1233" y="2434">24477</text></g>
<g id="n24478" class="gr"><ellipse cx="1365" cy="2426" rx="52.5" ry="24"/><text x="1365" y="2434">24478</text></g>
<g id="n24481" class="gr"><ellipse cx="1546" cy="2426" rx="52.5" ry="24"/><text x="1546" y="2434">24481</text></g>
<g id="n27796" class="gr"><ellipse cx="1829" cy="2426" rx="52.5" ry="24"/><text x="1829" y="2434">27796</text></g>
<g id="n26403" class="gr"><ellipse cx="1961" cy="2426" rx="52.5" ry="24"/><text x="1961" y="2434">26403</text></g>
<g id="n24849" class="gn"><ellipse cx="2093" cy="2426" rx="52.5" ry="24"/><text x="2093" y="2434">24849</text></g>
<g id="n24812" class="gr"><ellipse cx="2225" cy="2426" rx="52.5" ry="24"/><text x="2225" y="2434">24812</text></g>
<g id="n26541" class="gr"><ellipse cx="2407" cy="2426" rx="52.5" ry="24"/><text x="2407" y="2434">26541</text></g>
<g id="n22435" class="gr"><ellipse cx="2972" cy="2426" rx="52.5" ry="24"/><text x="2972" y="2434">22435</text></g>
<g id="n27256" class="gr"><ellipse cx="1070" cy="2522" rx="52.5" ry="24"/><text x="1070" y="2530">27256</text></g>
<g id="n23355" class="gr"><ellipse cx="1300" cy="2522" rx="52.5" ry="24"/><text x="1300" y="2530">23355</text></g>
<g id="n28138" class="gr"><ellipse cx="1829" cy="2522" rx="52.5" ry="24"/><text x="1829" y="2530">28138</text></g>
<g id="n33935" class="gr"><ellipse cx="1961" cy="2522" rx="52.5" ry="24"/><text x="1961" y="2530">33935</text></g>
<g id="n24822" class="gn"><ellipse cx="2193" cy="2522" rx="52.5" ry="24"/><text x="2193" y="2530">24822</text></g>
<g id="n24821" class="gn"><ellipse cx="2326" cy="2522" rx="52.5" ry="24"/><text x="2326" y="2530">24821</text></g>
<g id="n17735" class="gn"><ellipse cx="2507" cy="2522" rx="52.5" ry="24"/><text x="2507" y="2530">17735</text></g>
<g id="n28656" class="rd"><ellipse cx="2840" cy="2522" rx="52.5" ry="24"/><text x="2840" y="2530">28656</text></g>
<g id="n29158" class="gr"><ellipse cx="2972" cy="2522" rx="52.5" ry="24"/><text x="2972" y="2530">29158</text></g>
<g id="n39236" class="gn"><ellipse cx="3104" cy="2522" rx="52.5" ry="24"/><text x="3104" y="2530">39236</text></g>
<g id="n28421" class="gr"><ellipse cx="3235" cy="2522" rx="52.5" ry="24"/><text x="3235" y="2530">28421</text></g>
<g id="n19036" class="gr"><ellipse cx="3671" cy="2522" rx="52.5" ry="24"/><text x="3671" y="2530">19036</text></g>
<g id="n27289" class="gr"><ellipse cx="1041" cy="2618" rx="52.5" ry="24"/><text x="1041" y="2626">27289</text></g>
<g id="n24082" class="gr"><ellipse cx="1233" cy="2618" rx="52.5" ry="24"/><text x="1233" y="2626">24082</text></g>
<g id="n24792" class="gr"><ellipse cx="1365" cy="2618" rx="52.5" ry="24"/><text x="1365" y="2626">24792</text></g>
<g id="n24815" class="gr"><ellipse cx="1546" cy="2618" rx="52.5" ry="24"/><text x="1546" y="2626">24815</text></g>
<g id="n17596" class="gn"><ellipse cx="2416" cy="2618" rx="52.5" ry="24"/><text x="2416" y="2626">17596</text></g>
<g id="n26542" class="gn"><ellipse cx="2557" cy="2618" rx="52.5" ry="24"/><text x="2557" y="2626">26542</text></g>
<g id="n29139" class="gr"><ellipse cx="2789" cy="2618" rx="52.5" ry="24"/><text x="2789" y="2626">29139</text></g>
<g id="n37920" class="gn"><ellipse cx="3055" cy="2618" rx="52.5" ry="24"/><text x="3055" y="2626">37920</text></g>
<g id="n28318" class="gn"><ellipse cx="3338" cy="2618" rx="52.5" ry="24"/><text x="3338" y="2626">28318</text></g>
<g id="n24775" class="gr"><ellipse cx="150" cy="2714" rx="52.5" ry="24"/><text x="150" y="2722">24775</text></g>
<g id="n28181" class="gr"><ellipse cx="331" cy="2714" rx="52.5" ry="24"/><text x="331" y="2722">28181</text></g>
<g id="n27290" class="gr"><ellipse cx="1023" cy="2714" rx="52.5" ry="24"/><text x="1023" y="2722">27290</text></g>
<g id="n24820" class="gr"><ellipse cx="1155" cy="2714" rx="52.5" ry="24"/><text x="1155" y="2722">24820</text></g>
<g id="n24492" class="gr"><ellipse cx="1285" cy="2714" rx="52.5" ry="24"/><text x="1285" y="2722">24492</text></g>
<g id="n24952" class="gr"><ellipse cx="1896" cy="2714" rx="52.5" ry="24"/><text x="1896" y="2722">24952</text></g>
<g id="n14825" class="gn"><ellipse cx="2648" cy="2714" rx="52.5" ry="24"/><text x="2648" y="2722">14825</text></g>
<g id="n24951" class="gr"><ellipse cx="3489" cy="2714" rx="52.5" ry="24"/><text x="3489" y="2722">24951</text></g>
<g id="n24790" class="gr"><ellipse cx="240" cy="2810" rx="52.5" ry="24"/><text x="240" y="2818">24790</text></g>
<g id="n24519" class="gr"><ellipse cx="461" cy="2810" rx="52.5" ry="24"/><text x="461" y="2818">24519</text></g>
<g id="n24491" class="gn"><ellipse cx="841" cy="2810" rx="52.5" ry="24"/><text x="841" y="2818">24491</text></g>
<g id="n26926" class="gr"><ellipse cx="1023" cy="2810" rx="52.5" ry="24"/><text x="1023" y="2818">26926</text></g>
<g id="n26172" class="gr"><ellipse cx="1233" cy="2810" rx="52.5" ry="24"/><text x="1233" y="2818">26172</text></g>
<g id="n28266" class="gr"><ellipse cx="1365" cy="2810" rx="52.5" ry="24"/><text x="1365" y="2818">28266</text></g>
<g id="n28664" class="gn"><ellipse cx="3063" cy="2810" rx="52.5" ry="24"/><text x="3063" y="2818">28664</text></g>
<g id="n24540" class="gr"><ellipse cx="564" cy="2906" rx="52.5" ry="24"/><text x="564" y="2914">24540</text></g>
<g id="n24791" class="gr"><ellipse cx="751" cy="2906" rx="52.5" ry="24"/><text x="751" y="2914">24791</text></g>
<g id="n23003" class="gn"><ellipse cx="1023" cy="2906" rx="52.5" ry="24"/><text x="1023" y="2914">23003</text></g>
<g id="n26938" class="gr"><ellipse cx="1210" cy="2906" rx="52.5" ry="24"/><text x="1210" y="2914">26938</text></g>
<g id="n26274" class="gr"><ellipse cx="1344" cy="2906" rx="52.5" ry="24"/><text x="1344" y="2914">26274</text></g>
<g id="n26690" class="gn"><ellipse cx="1476" cy="2906" rx="52.5" ry="24"/><text x="1476" y="2914">26690</text></g>
<g id="n24479" class="gr"><ellipse cx="1662" cy="2906" rx="52.5" ry="24"/><text x="1662" y="2914">24479</text></g>
<g id="n26272" class="gr"><ellipse cx="1084" cy="3001" rx="52.5" ry="24"/><text x="1084" y="3009">26272</text></g>
<g id="n26273" class="gr"><ellipse cx="1216" cy="3001" rx="52.5" ry="24"/><text x="1216" y="3009">26273</text></g>
<g id="n26676" class="gr"><ellipse cx="1348" cy="3001" rx="52.5" ry="24"/><text x="1348" y="3009">26676</text></g>
<g id="n26677" class="gr"><ellipse cx="1480" cy="3001" rx="52.5" ry="24"/><text x="1480" y="3009">26677</text></g>
<g id="n31946" class="gn"><ellipse cx="1612" cy="3001" rx="52.5" ry="24"/><text x="1612" y="3009">31946</text></g>
<g id="n36493" class="gn"><ellipse cx="1744" cy="3001" rx="52.5" ry="24"/><text x="1744" y="3009">36493</text></g>
<g id="n24786" class="gr"><ellipse cx="3534" cy="3001" rx="52.5" ry="24"/><text x="3534" y="3009">24786</text></g>
<g id="n26189" class="gr"><ellipse cx="662" cy="3097" rx="52.5" ry="24"/><text x="662" y="3105">26189</text></g>
<g id="n26939" class="gr"><ellipse cx="1046" cy="3097" rx="52.5" ry="24"/><text x="1046" y="3105">26939</text></g>
<g id="n27779" class="gn"><ellipse cx="1204" cy="3097" rx="52.5" ry="24"/><text x="1204" y="3105">27779</text></g>
<g id="n24665" class="gr"><ellipse cx="3224" cy="3097" rx="52.5" ry="24"/><text x="3224" y="3105">24665</text></g>
<g id="n26540" class="gn"><ellipse cx="3356" cy="3097" rx="52.5" ry="24"/><text x="3356" y="3105">26540</text></g>
<g id="n26177" class="gn"><ellipse cx="3488" cy="3097" rx="52.5" ry="24"/><text x="3488" y="3105">26177</text></g>
<g id="n36014" class="gr"><ellipse cx="3620" cy="3097" rx="52.5" ry="24"/><text x="3620" y="3105">36014</text></g>
<g id="n28167" class="gr"><ellipse cx="3852" cy="3097" rx="52.5" ry="24"/><text x="3852" y="3105">28167</text></g>
<g id="n13985" class="gn"><ellipse cx="1204" cy="3193" rx="52.5" ry="24"/><text x="1204" y="3201">13985</text></g>
<g id="n27126" class="gr"><ellipse cx="3852" cy="3193" rx="52.5" ry="24"/><text x="3852" y="3201">27126</text></g>
<g id="n23046" class="gn"><ellipse cx="742" cy="3289" rx="52.5" ry="24"/><text x="742" y="3297">23046</text></g>
<g id="n27780" class="gn"><ellipse cx="875" cy="3289" rx="52.5" ry="24"/><text x="875" y="3297">27780</text></g>
<g id="n27791" class="gn"><ellipse cx="1007" cy="3289" rx="52.5" ry="24"/><text x="1007" y="3297">27791</text></g>
<g id="n27804" class="gn"><ellipse cx="1139" cy="3289" rx="52.5" ry="24"/><text x="1139" y="3297">27804</text></g>
<g id="n28192" class="gn"><ellipse cx="1270" cy="3289" rx="52.5" ry="24"/><text x="1270" y="3297">28192</text></g>
<g id="n38457" class="gn"><ellipse cx="1403" cy="3289" rx="52.5" ry="24"/><text x="1403" y="3297">38457</text></g>
<g id="n38728" class="or"><ellipse cx="1534" cy="3289" rx="52.5" ry="24"/><text x="1534" y="3297">38728</text></g>
<g id="n30619" class="gr"><ellipse cx="1667" cy="3289" rx="52.5" ry="24"/><text x="1667" y="3297">30619</text></g>
<g id="n39177" class="gn"><ellipse cx="1403" cy="3385" rx="52.5" ry="24"/><text x="1403" y="3393">39177</text></g>
</g>
</svg>
